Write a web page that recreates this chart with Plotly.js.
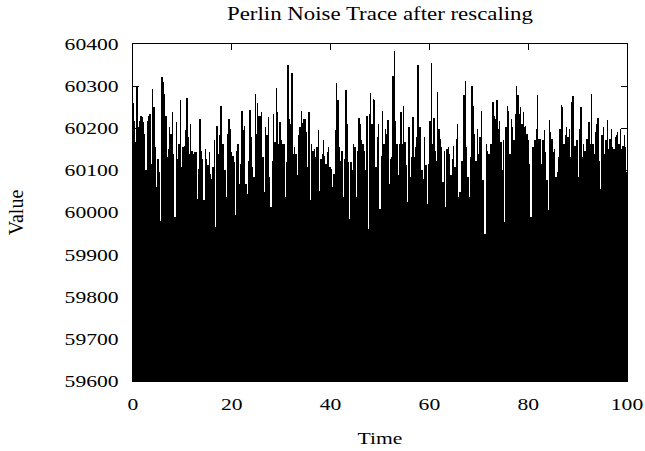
<!DOCTYPE html>
<html>
<head>
<meta charset="utf-8">
<script src="https://cdn.plot.ly/plotly-3.0.1.min.js"></script>
<style>html,body{margin:0;padding:0;background:#fff;}#chart{width:645px;height:451px;}</style>
</head>
<body>
<div id="chart"></div>
<script>
const valuesA = [60259,60218,60167,60297,60202,60218,60230,60226,60214,60187,60100,60218,60230,60234,60116,60293,60250,60155,60060,60127,60096,59981,60321,60309,60282,60230,60131,60151,60202,60187,60238,60139,59989,60214,60127,60163,60266,60108,60155,60159,60195,60272,60179,60139,60210,60147,60139,60143,60143,60033,60104,60222,60147,60127,60029,60151,60127,60112,60143,60092,60080,60108,60171,59966,60206,60139,60183,60254,60163,60163,60100,60037,60187,60222,60199,60143,60135];
const valuesB = [60120,59993,60147,60163,60068,60116,60242,60195,60206,60068,60045,60123,60244,60179,60108,60084,60282,60187,60259,60230,60228,60238,60131,60048,60202,60183,60226,60084,60013,60123,60234,60167,60296,60238,60163,60214,60171,60163,60163,60037,60120,60351,60222,60210,60330,60139,60155,60139,60088,60183,60202,60242,60212,60222,60222,60191,60108,60238,60029,60163,60147,60151,60131,60155,60195,60052,60127,60139,60171,60135,60116,60143,60155,60108,60104,60060];
const valuesC = [60092,60195,60307,60266,60155,60123,60147,60037,60127,60291,60210,60120,59985,60120,60100,60163,60155,60037,60147,60225,60210,60171,60163,60147,60100,60230,59962,60234,60283,60210,60270,60266,60108,60179,60210,60009,60135,60242,60163,60199,60187,60220,60068,60127,60131,60325,60383,60218,60163,60088,60163,60238,60163,60254,60167,60112,60025,60202,60084,60131,60226,60131,60155,60179,60351,60202,60202,60100,60080,60179,60112,60021,60116,60217,60355,60163];
const valuesD = [60225,60147,60123,60285,60199,60175,60155,60072,60147,60013,60151,60155,60139,60088,60127,60159,60108,60175,60210,60037,60048,60123,60123,60278,60312,60155,60084,60037,60131,60301,60254,60187,60123,60199,60139,60179,60242,60076,60076,59950,60163,60147,60139,60163,60163,60262,60230,60222,60266,60199,60218,60167,60100,60171,59977,60202,60254,60242,60139,60222,60202,60171,60234,60301,60278,60234,60250,60210,60238,60202,60206,60187,60171,60116,59989,60155];
const valuesE = [60155,60171,60199,60278,60175,60175,60116,60171,60195,60143,60076,60005,60220,60191,60175,60143,60151,60084,60096,60131,60199,60255,60250,60163,60183,60202,60179,60199,60131,60262,60276,60159,60159,60171,60084,60199,60251,60131,60163,60147,60175,60175,60214,60163,60282,60163,60139,60191,60210,60225,60123,60056,60183,60202,60139,60171,60220,60151,60175,60199,60155,60151,60179,60183,60191,60163,60199,60151,60159,60183,60155,60096];

const values = valuesA.concat(valuesB, valuesC, valuesD, valuesE);
const timeStart = 0;
const timeEnd = 100;
const step = (timeEnd - timeStart) / (values.length - 1);
const time = values.map((v, i) => timeStart + i * step);

const xTicks = [0, 20, 40, 60, 80, 100];
const yTicks = [59600, 59700, 59800, 59900, 60000, 60100, 60200, 60300, 60400];

const serif = 'Liberation Serif';

const trace = {
  type: 'bar',
  x: time,
  y: values,
  width: step,
  marker: {color: '#000', line: {width: 0}},
  hoverinfo: 'skip'
};

const axisCommon = {
  showline: true, linecolor: '#000', linewidth: 1, mirror: 'ticks',
  ticks: 'inside', ticklen: 6, tickwidth: 1, tickcolor: '#000',
  showgrid: false, zeroline: false,
  tickfont: {family: serif, size: 17, color: '#000'}
};

const layout = {
  width: 645, height: 451,
  margin: {l: 133, r: 18, t: 44, b: 70},
  paper_bgcolor: '#fff', plot_bgcolor: '#fff',
  showlegend: false,
  bargap: 0,
  title: {
    text: 'Perlin Noise Trace after rescaling',
    font: {family: serif, size: 18, color: '#000'},
    x: 0.5, xref: 'paper', xanchor: 'center',
    y: 1 - 14 / 451, yref: 'container', yanchor: 'middle'
  },
  xaxis: Object.assign({}, axisCommon, {
    range: [0, 100], tickvals: xTicks, ticktext: xTicks.map(String),
    ticklabelstandoff: 8,
    title: {text: 'Time', font: {family: serif, size: 17, color: '#000'}, standoff: 18}
  }),
  yaxis: Object.assign({}, axisCommon, {
    range: [59600, 60400], tickvals: yTicks, ticktext: yTicks.map(String),
    ticklabelstandoff: 10,
    title: {text: 'Value', font: {family: serif, size: 20, color: '#000'}, standoff: 47}
  })
};

Plotly.newPlot('chart', [trace], layout, {displayModeBar: false, staticPlot: true}).then(function () {
  // widen the serif glyphs horizontally like the reference rendering
  document.querySelectorAll('#chart .main-svg text').forEach(function (t) {
    const isY = !!t.closest('.g-ytitle');
    const stretch = isY ? 1.0 : 1.27;
    const w = t.getComputedTextLength();
    if (w > 0 && stretch !== 1) {
      t.setAttribute('textLength', (w * stretch).toFixed(1));
      t.setAttribute('lengthAdjust', 'spacingAndGlyphs');
    }
  });
});
</script>
</body>
</html>
